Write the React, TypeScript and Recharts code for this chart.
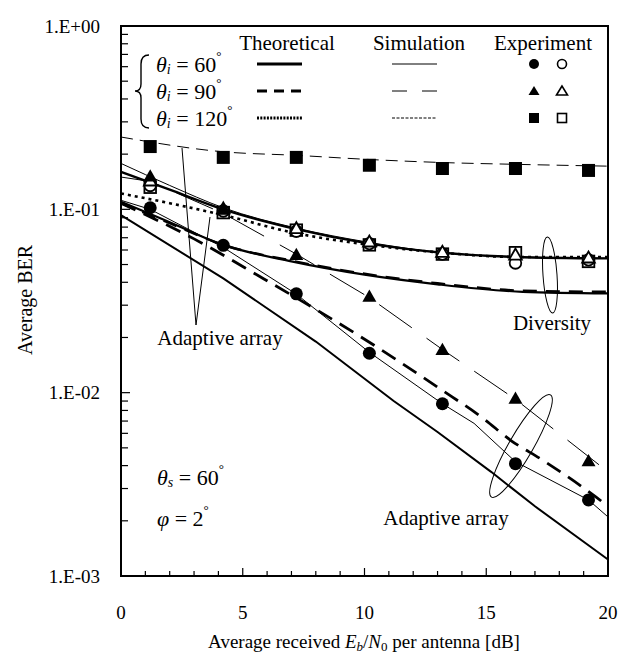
import React from "react";
import { ComposedChart, Line, Scatter, XAxis, YAxis } from "recharts";

const W = 620;
const H = 652;
const PL = 121;
const PT = 26;
const PR = 608;
const PB = 576;
const FONT = "Liberation Serif";
const fontStyle = { fontFamily: '"Liberation Serif", "Times New Roman", serif' };

// measurement positions [dB]
const expX = [1.2, 4.2, 7.2, 10.2, 13.2, 16.2, 19.2];
// experiment, adaptive array (filled markers)
const expAdaptive60 = [0.102, 0.0636, 0.0346, 0.0164, 0.0087, 0.0041, 0.0026];
const expAdaptive90 = [0.15, 0.099, 0.056, 0.0332, 0.017, 0.0092, 0.0042];
const expAdaptive120 = [0.22, 0.192, 0.192, 0.174, 0.167, 0.167, 0.163];
// experiment, diversity (open markers)
const expDiversity60 = [0.135, 0.098, 0.076, 0.065, 0.057, 0.051, 0.053];
const expDiversity90 = [0.142, 0.1, 0.078, 0.066, 0.058, 0.056, 0.054];
const expDiversity120 = [0.132, 0.096, 0.077, 0.064, 0.057, 0.058, 0.052];

// theoretical curves
const thDivAX = [0, 2, 4.2, 7.2, 10.2, 13.2, 16.2, 20];
const thDivAY = [0.16, 0.128, 0.1, 0.078, 0.065, 0.058, 0.055, 0.054];
const thDivDotX = [0, 2, 4.2, 7.2, 10.2, 13.2, 16.2, 20];
const thDivDotY = [0.122, 0.108, 0.093, 0.074, 0.064, 0.058, 0.055, 0.055];
const thDivBX = [0, 2, 4.2, 7, 10, 13, 16.5, 20];
const thDivBY = [0.11, 0.085, 0.064, 0.052, 0.044, 0.039, 0.0355, 0.0348];
const thDivBDashY = [0.108, 0.084, 0.064, 0.0525, 0.0445, 0.0395, 0.036, 0.0355];
const thAd60X = [0, 4.2, 8, 11.2, 13, 15.2, 17, 20];
const thAd60Y = [0.093, 0.042, 0.019, 0.009, 0.0061, 0.0037, 0.0024, 0.00123];
const thAd90X = [0, 3, 5.7, 10.1, 13.1, 14.9, 16, 17.3, 19.5, 20];
const thAd90Y = [0.108, 0.069, 0.043, 0.0192, 0.0105, 0.0072, 0.0055, 0.0043, 0.0027, 0.0024];

// simulation curves
const simAd60X = [0, 1.2, 4.2, 7.2, 10.2, 13.2, 14.5, 16.2, 19.2, 20];
const simAd60Y = [0.112, 0.1, 0.062, 0.0345, 0.0166, 0.0087, 0.0068, 0.0042, 0.0026, 0.0021];
const simAd90X = [0, 1.2, 4.2, 7.2, 10.2, 13.2, 16.2, 20];
const simAd90Y = [0.15, 0.142, 0.095, 0.057, 0.033, 0.0172, 0.0092, 0.0037];
const simAd120X = [0, 4.2, 7.2, 10.2, 13.2, 16.2, 20];
const simAd120Y = [0.248, 0.206, 0.197, 0.187, 0.18, 0.176, 0.172];
const simDivX = [0, 2, 4.2, 7.2, 10.2, 13.2, 16.2, 20];
const simDivY = [0.178, 0.135, 0.102, 0.079, 0.066, 0.058, 0.055, 0.054];

const xTicks = [0, 1, 2, 3, 4, 5, 6, 7, 8, 9, 10, 11, 12, 13, 14, 15, 16, 17, 18, 19, 20];
const yTicks = [
  0.001, 0.002, 0.003, 0.004, 0.005, 0.006, 0.007, 0.008, 0.009,
  0.01, 0.02, 0.03, 0.04, 0.05, 0.06, 0.07, 0.08, 0.09,
  0.1, 0.2, 0.3, 0.4, 0.5, 0.6, 0.7, 0.8, 0.9, 1,
];

const pts = (xs: number[], ys: number[]) => xs.map((x, i) => ({ x, y: ys[i] }));

const isDecade = (v: number) => {
  const l = Math.log10(v);
  return Math.abs(l - Math.round(l)) < 1e-6;
};

const YTick = (props: any) => {
  const { y, payload } = props;
  const v = payload.value;
  const major = isDecade(v);
  const e = Math.round(Math.log10(v));
  const label = "1.E" + (e >= 0 ? "+" : "-") + String(Math.abs(e)).padStart(2, "0");
  return (
    <g>
      <line x1={PL} x2={PL + (major ? 9 : 7)} y1={y} y2={y} stroke="#000" strokeWidth={1.2} />
      {major && (
        <text x={PL - 21} y={y} textAnchor="end" dominantBaseline="central" fontFamily={FONT} style={fontStyle} fontSize={19} fill="#000">
          {label}
        </text>
      )}
    </g>
  );
};

const XTick = (props: any) => {
  const { x, payload } = props;
  const v = payload.value;
  const major = v % 5 === 0;
  return (
    <g>
      <line x1={x} x2={x} y1={PB} y2={PB - (major ? 8 : 5)} stroke="#000" strokeWidth={1.2} />
      {major && (
        <text x={x} y={612} textAnchor="middle" dominantBaseline="central" fontFamily={FONT} style={fontStyle} fontSize={19} fill="#000">
          {v}
        </text>
      )}
    </g>
  );
};

const marker = (kind: string, filled: boolean) => (p: any) => {
  const { cx, cy } = p;
  const fill = filled ? "#000" : "#fff";
  const sw = filled ? 0 : 1.8;
  if (kind === "circle") {
    return <circle cx={cx} cy={cy} r={filled ? 6.5 : 5.8} fill={fill} stroke="#000" strokeWidth={sw} />;
  }
  if (kind === "triangle") {
    const s = filled ? 7 : 6.3;
    return (
      <polygon
        points={`${cx},${cy - s * 1.1} ${cx - s},${cy + s * 0.65} ${cx + s},${cy + s * 0.65}`}
        fill={fill}
        stroke="#000"
        strokeWidth={sw}
      />
    );
  }
  const h = filled ? 6.5 : 5.8;
  return <rect x={cx - h} y={cy - h} width={h * 2} height={h * 2} fill={fill} stroke="#000" strokeWidth={sw} />;
};

const Theta = ({ x, y, sub, value }: { x: number; y: number; sub: string; value: string }) => (
  <text x={x} y={y} fontSize={22} fill="#000" dominantBaseline="central">
    <tspan fontStyle="italic">{sub === "φ" ? "φ" : "θ"}</tspan>
    {sub !== "φ" && (
      <tspan fontStyle="italic" fontSize={14} dy={5}>
        {sub}
      </tspan>
    )}
    <tspan dy={sub !== "φ" ? -5 : 0}> = {value}</tspan>
    <tspan fontSize={13} dy={-9}>
      °
    </tspan>
  </text>
);

const Overlay = () => (
  <svg width={W} height={H} fontFamily={FONT} style={{ ...fontStyle, position: "absolute", left: 0, top: 0, pointerEvents: "none" }}>
    <rect x={PL} y={PT} width={PR - PL} height={PB - PT} fill="none" stroke="#000" strokeWidth={2} />

    {/* legend */}
    <g fontSize={21} fill="#000" textAnchor="middle">
      <text x={287} y={50}>Theoretical</text>
      <text x={419} y={50}>Simulation</text>
      <text x={543} y={50}>Experiment</text>
    </g>
    <path d="M149,55 Q141,55 141,64 L141,84 Q141,91 135,91 Q141,91 141,98 L141,119 Q141,128 149,128" fill="none" stroke="#000" strokeWidth={1.4} />
    <Theta x={156} y={64} sub="i" value="60" />
    <Theta x={156} y={91} sub="i" value="90" />
    <Theta x={156} y={118} sub="i" value="120" />
    <line x1={257} x2={302} y1={64} y2={64} stroke="#000" strokeWidth={3} />
    <line x1={257} x2={302} y1={91} y2={91} stroke="#000" strokeWidth={3} strokeDasharray="10 7" />
    <line x1={257} x2={302} y1={118} y2={118} stroke="#000" strokeWidth={3} strokeDasharray="2 1.3" />
    <line x1={392} x2={437} y1={64} y2={64} stroke="#000" strokeWidth={1} />
    <line x1={392} x2={437} y1={91} y2={91} stroke="#000" strokeWidth={1} strokeDasharray="15 15" />
    <line x1={392} x2={437} y1={118} y2={118} stroke="#000" strokeWidth={1} strokeDasharray="3 1.5" />
    <circle cx={534} cy={64} r={5} fill="#000" />
    <circle cx={562} cy={64} r={4.5} fill="#fff" stroke="#000" strokeWidth={1.6} />
    <polygon points="534,86 528.5,95 539.5,95" fill="#000" />
    <polygon points="562,86 556.5,95 567.5,95" fill="#fff" stroke="#000" strokeWidth={1.6} />
    <rect x={529} y={113} width={10} height={10} fill="#000" />
    <rect x={557.5} y={113.5} width={9} height={9} fill="#fff" stroke="#000" strokeWidth={1.6} />

    {/* annotations */}
    <polyline points="182,148 196,325 210,217" fill="none" stroke="#000" strokeWidth={1} />
    <text x={220} y={338} fontSize={21} textAnchor="middle" dominantBaseline="central">
      Adaptive array
    </text>
    <ellipse cx={550} cy={275} rx={7} ry={38} transform="rotate(-4 550 275)" fill="none" stroke="#000" strokeWidth={1} />
    <text x={552} y={323} fontSize={21} textAnchor="middle" dominantBaseline="central">
      Diversity
    </text>
    <ellipse cx={521} cy={446} rx={12} ry={59} transform="rotate(30 521 446)" fill="none" stroke="#000" strokeWidth={1} />
    <text x={446} y={518} fontSize={21} textAnchor="middle" dominantBaseline="central">
      Adaptive array
    </text>
    <Theta x={157} y={477} sub="s" value="60" />
    <Theta x={157} y={518} sub="φ" value="2" />

    {/* axis titles */}
    <text x={25} y={300} transform="rotate(-90 25 300)" fontSize={20} textAnchor="middle" dominantBaseline="central">
      Average BER
    </text>
    <text x={364} y={641} fontSize={19} textAnchor="middle" dominantBaseline="central">
      Average received <tspan fontStyle="italic">E</tspan>
      <tspan fontSize={13} dy={5} fontStyle="italic">b</tspan>
      <tspan dy={-5}>/</tspan>
      <tspan fontStyle="italic">N</tspan>
      <tspan fontSize={13} dy={5}>0</tspan>
      <tspan dy={-5}> per antenna [dB]</tspan>
    </text>
  </svg>
);

export default function App() {
  const thin = { stroke: "#000", dot: false, activeDot: false, isAnimationActive: false } as const;
  return (
    <div style={{ ...fontStyle, position: "absolute", left: 0, top: 0, width: W, height: H, background: "#fff" }}>
      <ComposedChart width={W} height={H} margin={{ top: PT, right: W - PR, left: 20, bottom: 0 }}>
        <XAxis
          type="number"
          dataKey="x"
          domain={[0, 20]}
          ticks={xTicks}
          interval={0}
          height={H - PB}
          axisLine={false}
          tickLine={false}
          tick={<XTick />}
        />
        <YAxis
          type="number"
          dataKey="y"
          scale="log"
          domain={[0.001, 1]}
          allowDataOverflow
          ticks={yTicks}
          interval={0}
          width={PL - 20}
          axisLine={false}
          tickLine={false}
          tick={<YTick />}
        />
        {/* simulation */}
        <Line data={pts(simAd120X, simAd120Y)} dataKey="y" type="monotone" strokeWidth={1} strokeDasharray="12 7" {...thin} />
        <Line data={pts(simDivX, simDivY)} dataKey="y" type="monotone" strokeWidth={1} {...thin} />
        <Line data={pts(simAd90X, simAd90Y)} dataKey="y" type="linear" strokeWidth={1} strokeDasharray="40 18" {...thin} />
        <Line data={pts(simAd60X, simAd60Y)} dataKey="y" type="linear" strokeWidth={1} {...thin} />
        {/* theoretical */}
        <Line data={pts(thDivDotX, thDivDotY)} dataKey="y" type="monotone" strokeWidth={2.6} strokeDasharray="3 4" {...thin} />
        <Line data={pts(thDivAX, thDivAY)} dataKey="y" type="monotone" strokeWidth={2.4} {...thin} />
        <Line data={pts(thDivBX, thDivBDashY)} dataKey="y" type="monotone" strokeWidth={2.4} strokeDasharray="14 9" {...thin} />
        <Line data={pts(thDivBX, thDivBY)} dataKey="y" type="monotone" strokeWidth={2.2} {...thin} />
        <Line data={pts(thAd60X, thAd60Y)} dataKey="y" type="linear" strokeWidth={2} {...thin} />
        <Line data={pts(thAd90X, thAd90Y)} dataKey="y" type="monotone" strokeWidth={2.8} strokeDasharray="16 9" {...thin} />
        {/* experiment, diversity */}
        <Scatter data={pts(expX, expDiversity120)} dataKey="y" shape={marker("square", false)} isAnimationActive={false} />
        <Scatter data={pts(expX, expDiversity60)} dataKey="y" shape={marker("circle", false)} isAnimationActive={false} />
        <Scatter data={pts(expX, expDiversity90)} dataKey="y" shape={marker("triangle", false)} isAnimationActive={false} />
        {/* experiment, adaptive array */}
        <Scatter data={pts(expX, expAdaptive120)} dataKey="y" shape={marker("square", true)} isAnimationActive={false} />
        <Scatter data={pts(expX, expAdaptive60)} dataKey="y" shape={marker("circle", true)} isAnimationActive={false} />
        <Scatter data={pts(expX, expAdaptive90)} dataKey="y" shape={marker("triangle", true)} isAnimationActive={false} />
      </ComposedChart>
      <Overlay />
    </div>
  );
}
